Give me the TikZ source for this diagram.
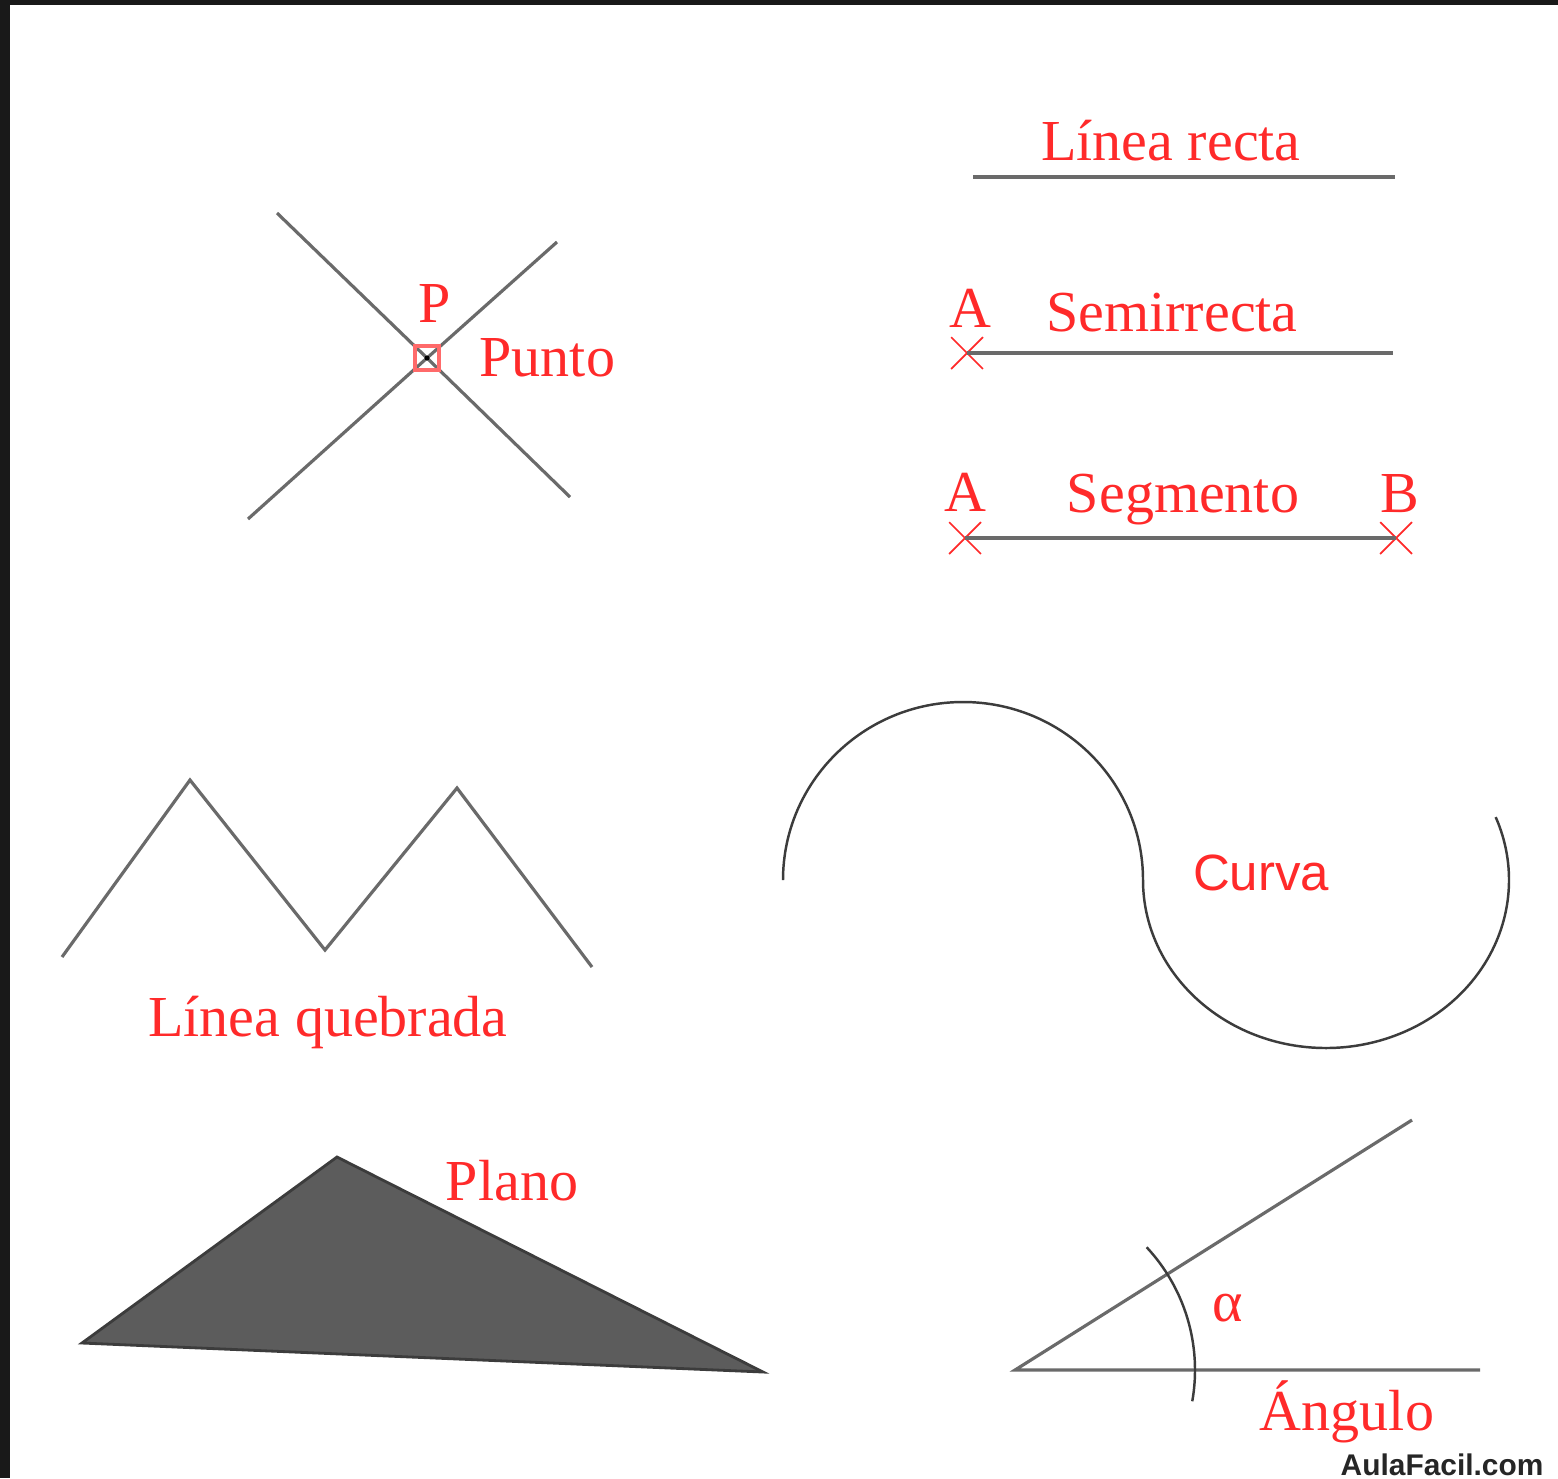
\documentclass[tikz,border=0pt]{standalone}
\usepackage{fontspec}
\setmainfont{Liberation Serif}
\newfontfamily\curvafont{Liberation Sans}
\usetikzlibrary{shapes.misc}
\definecolor{cred}{HTML}{FF2A2A}
\definecolor{cline}{HTML}{6A6A6A}
\definecolor{cdark}{HTML}{3C3C3C}
\definecolor{cplane}{HTML}{5C5C5C}
\tikzset{
  every picture/.style={x=0.01cm, y=-0.01cm},
  lbl/.style={text=cred, inner sep=0pt, font=\fontsize{16.5}{18}\selectfont},
  geo/.style={draw=cline, line width=0.9pt},
  thin geo/.style={draw=cdark, line width=0.7pt},
  xmark/.style={cross out, draw=cred, line width=0.5pt, minimum size=0.3cm, inner sep=0pt},
  ptmark/.style={draw=cred!70, line width=1pt, minimum size=0.24cm, inner sep=0pt},
}

\begin{document}
\begin{tikzpicture}
  % frame
  \useasboundingbox (0,0) rectangle (1558,1478);
  \fill[black!90] (0,0) rectangle (1558,1478);
  \fill[white] (10,5) rectangle (1558,1478);

  % punto
  \coordinate (p1) at (277,213);
  \coordinate (p2) at (570,497);
  \coordinate (p3) at (557,242);
  \coordinate (p4) at (248,519);
  \node[ptmark] (P) at (427,358) {};
  \draw[geo] (p1) -- (P.center) -- (p2);
  \draw[geo] (p3) -- (P.center) -- (p4);
  \node[ptmark] at (P.center) {};
  \fill[black] (P.center) circle (2.5);
  \node[lbl] (pl) at (435,303) {P};
  \node[lbl, anchor=west] (punto) at (479,358) {Punto};

  % linea recta, semirrecta, segmento
  \coordinate (r1) at (973,177);
  \coordinate (r2) at (1395,177);
  \draw[geo] (r1) -- (r2);
  \node[lbl] (recta) at (1171,141) {Línea recta};

  \node[xmark] (sA) at (967,353) {};
  \coordinate (sEnd) at (1393,353);
  \draw[geo] (sA.center) -- (sEnd);
  \node[lbl] (sAl) at (970,308) {A};
  \node[lbl] (semi) at (1172,313) {Semirrecta};

  \node[xmark] (gA) at (965,538) {};
  \node[xmark] (gB) at (1396,538) {};
  \draw[geo] (gA.center) -- (gB.center);
  \node[lbl] (gAl) at (965,492) {A};
  \node[lbl] (seg) at (1183,500) {Segmento};
  \node[lbl] (gBl) at (1400,494) {B};

  % curva
  \coordinate (c0) at (783,880);
  \draw[thin geo] (c0) arc[start angle=180, end angle=360, x radius=180, y radius=178]
    arc[start angle=180, end angle=-22, x radius=183, y radius=168];
  \node[lbl, font=\curvafont\fontsize{14.5}{16}\selectfont] (curva) at (1261,873) {Curva};

  % linea quebrada
  \coordinate (q1) at (62,957);
  \coordinate (q2) at (190,780);
  \coordinate (q3) at (325,950);
  \coordinate (q4) at (457,788);
  \coordinate (q5) at (592,967);
  \draw[geo, line join=miter] (q1) -- (q2) -- (q3) -- (q4) -- (q5);
  \node[lbl] (queb) at (328,1022) {Línea quebrada};

  % plano
  \coordinate (t1) at (82,1343);
  \coordinate (t2) at (337,1157);
  \coordinate (t3) at (763,1372);
  \filldraw[fill=cplane, draw=cdark, line width=0.8pt] (t1) -- (t2) -- (t3) -- cycle;
  \node[lbl] (plano) at (512,1181) {Plano};

  % angulo
  \coordinate (v) at (1015,1370);
  \coordinate (h) at (1480,1370);
  \coordinate (s) at (1412,1120);
  \draw[geo] (h) -- (v) -- (s);
  \draw[thin geo] (v) ++(-43:180) arc[start angle=-43, end angle=10, radius=180];
  \node[lbl] (alfa) at (1228,1308) {α};
  \node[lbl] (ang) at (1347,1412) {Ángulo};

  % watermark
  \node[anchor=west, inner sep=0pt, font=\curvafont\bfseries\fontsize{8.5}{9}\selectfont, text=black!85] (wm) at (1340,1465) {AulaFacil.com};
\end{tikzpicture}
\end{document}
